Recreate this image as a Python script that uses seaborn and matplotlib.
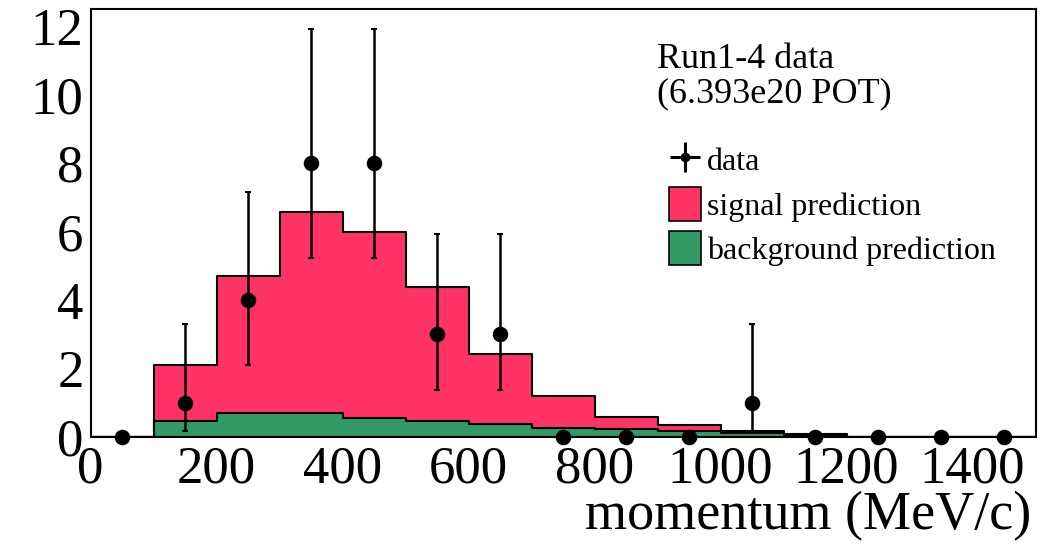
import numpy as np
import pandas as pd
import matplotlib
matplotlib.use("Agg")
import matplotlib.pyplot as plt
from matplotlib.patches import Patch
from matplotlib.lines import Line2D
from matplotlib.legend_handler import HandlerTuple
from matplotlib.ticker import MultipleLocator
import seaborn as sns

# ---- data ----
bin_edges = [0, 100, 200, 300, 400, 500, 600, 700, 800, 900, 1000, 1100, 1200, 1300, 1400, 1500]
bin_centers = [50, 150, 250, 350, 450, 550, 650, 750, 850, 950, 1050, 1150, 1250, 1350, 1450]
background = [0.0, 0.48, 0.69, 0.69, 0.56, 0.47, 0.37, 0.27, 0.22, 0.17, 0.13, 0.06, 0.0, 0.0, 0.0]
signal = [0.0, 1.62, 4.01, 5.89, 5.44, 3.92, 2.06, 0.93, 0.36, 0.18, 0.05, 0.02, 0.0, 0.0, 0.0]
data_counts = [0, 1, 4, 8, 8, 3, 3, 0, 0, 0, 1, 0, 0, 0, 0]
err_low = [0.0, 0.83, 1.91, 2.78, 2.78, 1.63, 1.63, 0.0, 0.0, 0.0, 0.83, 0.0, 0.0, 0.0, 0.0]
err_high = [0.0, 2.30, 3.16, 3.91, 3.91, 2.92, 2.92, 0.0, 0.0, 0.0, 2.30, 0.0, 0.0, 0.0, 0.0]

x_label = "momentum (MeV/c)"
legend_title = "Run1-4 data\n(6.393e20 POT)"
legend_labels = ["data", "signal prediction", "background prediction"]

pink = "#FF3366"
green = "#339966"

sns.set_theme(style="white")
plt.rcParams["font.family"] = ["Liberation Serif", "DejaVu Serif"]
plt.rcParams["text.color"] = "black"
plt.rcParams["axes.labelcolor"] = "black"
plt.rcParams["xtick.color"] = "black"
plt.rcParams["ytick.color"] = "black"

fig = plt.figure(figsize=(10.59, 5.44), dpi=100)
ax = fig.add_axes([90.5 / 1059, 1 - 437 / 544, (1035.5 - 90.5) / 1059, (437 - 9) / 544])

total = [s + b for s, b in zip(signal, background)]
df_tot = pd.DataFrame({"x": bin_centers, "w": total})
df_bkg = pd.DataFrame({"x": bin_centers, "w": background})

sns.histplot(data=df_tot, x="x", weights="w", bins=bin_edges, element="step",
             fill=True, color=pink, alpha=1, edgecolor="black", linewidth=1.5, ax=ax)
sns.histplot(data=df_bkg, x="x", weights="w", bins=bin_edges, element="step",
             fill=True, color=green, alpha=1, edgecolor="black", linewidth=1.5, ax=ax)

# data points with asymmetric Poisson errors (only non-zero bins)
dx = np.array(bin_centers)
dy = np.array(data_counts, dtype=float)
lo = np.array(err_low)
hi = np.array(err_high)
nz = dy > 0
ax.errorbar(dx[nz], dy[nz], yerr=[lo[nz], hi[nz]], fmt="none", ecolor="black",
            elinewidth=1.8, capsize=2.5, capthick=1.5, zorder=5)
sns.scatterplot(x=dx, y=dy, color="black", s=125, marker="o", edgecolor="black",
                linewidth=0, ax=ax, zorder=6, clip_on=False)

ax.set_xlim(0, 1500)
ax.set_ylim(0, 12.5)
ax.xaxis.set_major_locator(MultipleLocator(200))
ax.xaxis.set_minor_locator(MultipleLocator(100))
ax.yaxis.set_major_locator(MultipleLocator(2))
ax.yaxis.set_minor_locator(MultipleLocator(0.5))
ax.tick_params(axis="both", which="both", direction="in", top=False, right=False,
               labelsize=38, colors="black", width=1.2)
ax.tick_params(axis="y", which="major", length=21, pad=5)
ax.tick_params(axis="y", which="minor", length=10.5)
ax.tick_params(axis="x", which="major", length=9, pad=6)
ax.tick_params(axis="x", which="minor", length=4)
for sp in ax.spines.values():
    sp.set_visible(True)
    sp.set_color("black")
    sp.set_linewidth(1.5)
ax.set_ylabel("")
ax.set_xlabel(x_label, fontsize=39, ha="right", x=0.995, labelpad=-2, color="black")
ax.grid(False)

# legend
ax.text(657 / 1059, 1 - 77 / 544, legend_title, transform=fig.transFigure,
        fontsize=26, va="center", ha="left", linespacing=1.05, color="black")
data_handle = (Line2D([], [], color="black", marker="+", markersize=22, markeredgewidth=2.2,
                      linestyle="none"),
               Line2D([], [], color="black", marker="o", markersize=6, linestyle="none"))
handles = [data_handle,
           Patch(facecolor=pink, edgecolor="black", linewidth=1.2),
           Patch(facecolor=green, edgecolor="black", linewidth=1.2)]
leg = fig.legend(handles, legend_labels, loc="upper left",
                 bbox_to_anchor=(656 / 1059, 1 - 130 / 544), frameon=False,
                 fontsize=23, handlelength=1.0, handleheight=1.25, handletextpad=0.2,
                 labelspacing=0.3, borderaxespad=0,
                 handler_map={tuple: HandlerTuple(ndivide=1)})
for t in leg.get_texts():
    t.set_color("black")

fig.savefig("out.png", dpi=100, facecolor="white")
